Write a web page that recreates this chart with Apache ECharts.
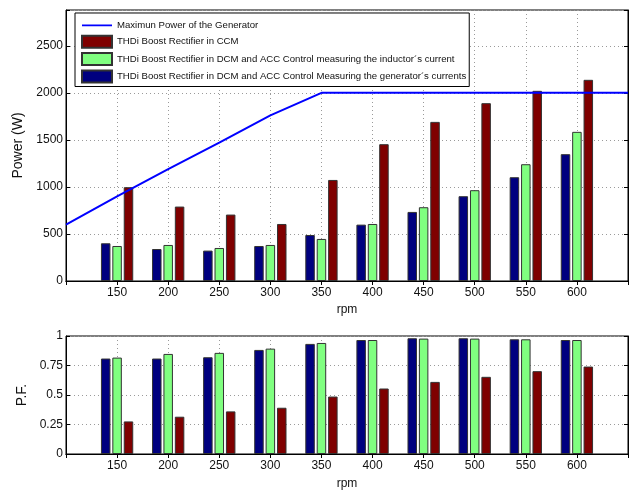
<!DOCTYPE html>
<html>
<head>
<meta charset="utf-8">
<script src="https://cdn.jsdelivr.net/npm/echarts@6/dist/echarts.min.js"></script>
<style>html,body{margin:0;padding:0;background:#fff}#c{width:639px;height:490px}</style>
</head>
<body>
<div id="c"></div>
<script>
// ---- data ----
const rpm = [150, 200, 250, 300, 350, 400, 450, 500, 550, 600];
const lineRpm = [100, 150, 200, 250, 300, 350, 400, 450, 500, 550, 600, 650];
const maxPower = [600, 900, 1190, 1470, 1760, 2000, 2000, 2000, 2000, 2000, 2000, 2000];
const powerCCM = [997, 791, 706, 606, 1074, 1454, 1691, 1890, 2021, 2138];
const powerInductor = [372, 383, 351, 383, 447, 606, 784, 965, 1241, 1585];
const powerGenerator = [401, 340, 323, 372, 489, 599, 734, 901, 1103, 1348];
const pfCCM = [0.276, 0.316, 0.361, 0.392, 0.487, 0.555, 0.611, 0.654, 0.702, 0.741];
const pfInductor = [0.817, 0.848, 0.857, 0.893, 0.941, 0.966, 0.978, 0.978, 0.972, 0.966];
const pfGenerator = [0.809, 0.809, 0.820, 0.882, 0.933, 0.966, 0.981, 0.981, 0.972, 0.966];
const powerTicks = [0, 500, 1000, 1500, 2000, 2500];
const pfTicks = [0, 0.25, 0.5, 0.75, 1];

const nLine = 'Maximun Power of the Generator';
const nCCM = 'THDi Boost Rectifier in CCM';
const nInd = 'THDi Boost Rectifier in DCM and ACC Control measuring the inductor´s current';
const nGen = 'THDi Boost Rectifier in DCM and ACC Control Measuring the generator´s currents';

const cBlue = '#00007f', cGreen = '#80ff80', cRed = '#7f0000';
const font = 'Liberation Sans, Arial, Helvetica, sans-serif';
const txt = '#111';

const pair = (xs, ys) => xs.map((x, i) => [x, ys[i]]);

const grid1 = { left: 66, top: 10, width: 562, height: 271, show: true, borderColor: '#000', borderWidth: 1, backgroundColor: '#fff', outerBoundsMode: 'none', containLabel: false };
const grid2 = { left: 66, top: 336, width: 562, height: 118, show: true, borderColor: '#000', borderWidth: 1, backgroundColor: '#fff', outerBoundsMode: 'none', containLabel: false };

const gridLine = { show: true, lineStyle: { color: '#9a9a9a', type: [1, 3], width: 1 } };

function xAx(gi, pos, labels, nameGap) {
  return {
    type: 'value', gridIndex: gi, position: pos, min: 100, max: 650, interval: 50,
    axisLine: { show: true, lineStyle: { color: '#000' } },
    axisTick: { show: true, inside: true, length: 4, lineStyle: { color: '#000' } },
    axisLabel: labels ? {
      show: true, color: txt, fontFamily: font, fontSize: 12, margin: 6,
      formatter: v => (rpm.indexOf(v) >= 0 ? String(v) : '')
    } : { show: false },
    splitLine: labels ? gridLine : { show: false },
    name: labels ? 'rpm' : '', nameLocation: 'middle', nameGap: nameGap || 0,
    nameTextStyle: { color: txt, fontFamily: font, fontSize: 12 }
  };
}
function yAx(gi, pos, max, interval, ticks, name, nameGap, labels) {
  return {
    type: 'value', gridIndex: gi, position: pos, min: 0, max: max, interval: interval,
    axisLine: { show: true, lineStyle: { color: '#000' } },
    axisTick: { show: true, inside: true, length: 4, lineStyle: { color: '#000' } },
    axisLabel: labels ? {
      show: true, color: txt, fontFamily: font, fontSize: 12, margin: 3,
      formatter: v => (ticks.indexOf(v) >= 0 ? String(v) : '')
    } : { show: false },
    splitLine: labels ? gridLine : { show: false },
    name: name, nameLocation: 'middle', nameGap: nameGap,
    nameTextStyle: { color: txt, fontFamily: font, fontSize: 14 }
  };
}

function bar(name, color, data, xi, yi) {
  return {
    type: 'bar', barWidth: 9.5, barGap: '20%',
    name: name, xAxisIndex: xi, yAxisIndex: yi, data: data,
    itemStyle: { color: color, borderColor: '#333', borderWidth: 1 }
  };
}

const lineIcon = 'path://M0,0L0.01,0M0,5.1L30,5.1L30,6.9L0,6.9ZM29.99,12L30,12';

const option = {
  animation: false,
  backgroundColor: '#fff',
  textStyle: { fontFamily: font },
  grid: [grid1, grid2],
  xAxis: [xAx(0, 'bottom', true, 23), xAx(1, 'bottom', true, 24), xAx(0, 'top', false), xAx(1, 'top', false)],
  yAxis: [
    yAx(0, 'left', 2880, 500, powerTicks, 'Power (W)', 40, true),
    yAx(1, 'left', 1, 0.25, pfTicks, 'P.F.', 34, true),
    yAx(0, 'right', 2880, 500, powerTicks, '', 0, false),
    yAx(1, 'right', 1, 0.25, pfTicks, '', 0, false)
  ],
  legend: {
    orient: 'vertical', left: 75, top: 13,
    data: [
      { name: nLine, icon: lineIcon, itemStyle: { color: '#0000ff', borderWidth: 0 } },
      { name: nCCM, icon: 'rect' },
      { name: nInd, icon: 'rect' },
      { name: nGen, icon: 'rect' }
    ],
    itemWidth: 30, itemHeight: 12, itemGap: 3.4,
    padding: [6.3, 3, 3, 6],
    backgroundColor: '#fff', borderColor: '#000', borderWidth: 1,
    textStyle: { color: txt, fontFamily: font, fontSize: 9.6 },
    selectedMode: false
  },
  series: [
    bar(nGen, cBlue, pair(rpm, powerGenerator), 0, 0),
    bar(nInd, cGreen, pair(rpm, powerInductor), 0, 0),
    bar(nCCM, cRed, pair(rpm, powerCCM), 0, 0),
    {
      name: nLine, type: 'line', xAxisIndex: 0, yAxisIndex: 0, data: pair(lineRpm, maxPower),
      symbol: 'none', lineStyle: { color: '#0000ff', width: 2 }, itemStyle: { color: '#0000ff' }, z: 5
    },
    bar(nGen, cBlue, pair(rpm, pfGenerator), 1, 1),
    bar(nInd, cGreen, pair(rpm, pfInductor), 1, 1),
    bar(nCCM, cRed, pair(rpm, pfCCM), 1, 1)
  ]
};

const chart = echarts.init(document.getElementById('c'), null, { renderer: 'canvas' });
chart.setOption(option);
</script>
</body>
</html>
